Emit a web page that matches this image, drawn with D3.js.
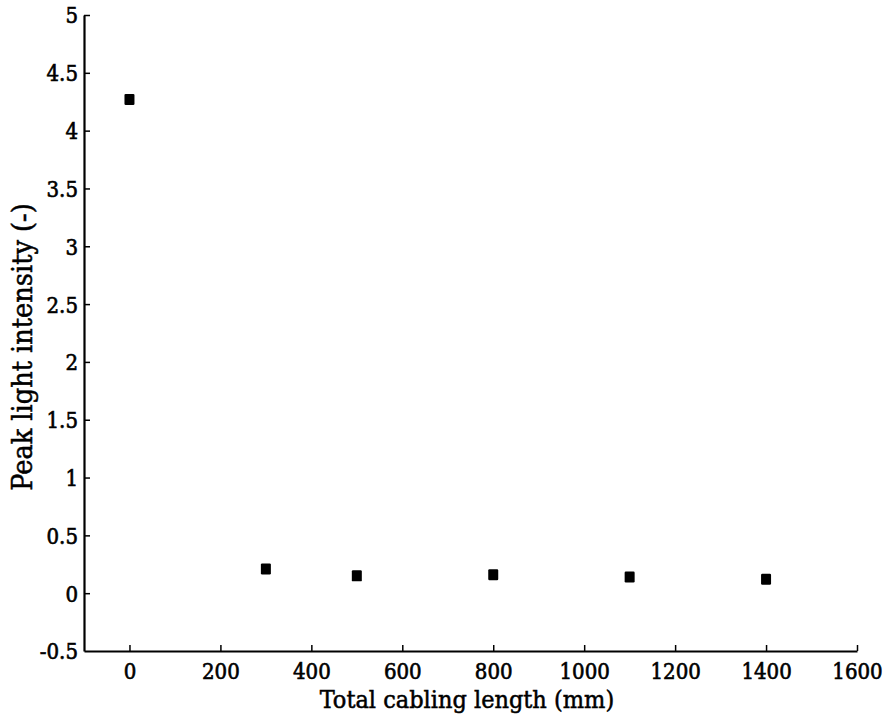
<!DOCTYPE html>
<html><head><meta charset="utf-8">
<script src="https://cdn.jsdelivr.net/npm/d3@7"></script>
<style>
html,body{margin:0;padding:0;background:#fff;}
svg{display:block;}
svg text{font-family:"DejaVu Serif Condensed","DejaVu Serif",serif;font-stretch:condensed;}
</style></head>
<body>
<svg id="chart" width="892" height="715"></svg>
<script>
const lengths = [0, 300, 500, 800, 1100, 1400];
const intensity = [4.27, 0.21, 0.15, 0.16, 0.14, 0.12];
const xTicks = [0, 200, 400, 600, 800, 1000, 1200, 1400, 1600];
const yTicks = [-0.5, 0, 0.5, 1, 1.5, 2, 2.5, 3, 3.5, 4, 4.5, 5];
const yTickLabels = ["-0.5", "0", "0.5", "1", "1.5", "2", "2.5", "3", "3.5", "4", "4.5", "5"];
const xTitle = "Total cabling length (mm)";
const yTitle = "Peak light intensity (-)";

const svg = d3.select("#chart");
const x = d3.scaleLinear().domain([-100, 1600]).range([84, 857]);
const y = d3.scaleLinear().domain([-0.5, 5]).range([651, 15]);

const xAxis = svg.append("g").attr("transform", `translate(0,${y(-0.5)})`)
  .call(d3.axisBottom(x).tickValues(xTicks).tickSizeInner(-6).tickSizeOuter(0).tickPadding(0).tickFormat(d => String(d)));
const yAxis = svg.append("g").attr("transform", `translate(${x(-100)},0)`)
  .call(d3.axisLeft(y).tickValues(yTicks).tickSizeInner(-6).tickSizeOuter(0).tickPadding(6)
    .tickFormat((d, i) => yTickLabels[i]));

[xAxis, yAxis].forEach(g => {
  g.attr("font-family", null).attr("font-size", 22);
  g.select(".domain").attr("stroke", "#000").attr("stroke-width", 2.2);
  g.selectAll(".tick line").attr("stroke", "#000").attr("stroke-width", 1.5);
  g.selectAll(".tick text").attr("fill", "#000").attr("stroke", "#000").attr("stroke-width", 0.6);
});
xAxis.selectAll(".tick text").attr("y", 28).attr("dy", null);
yAxis.selectAll(".tick text").attr("dy", "0.36em");
yAxis.selectAll(".tick").filter(d => d === -0.5).select("line").remove();

svg.append("text").attr("x", 467).attr("y", 708).attr("text-anchor", "middle")
  .attr("font-size", 25).attr("fill", "#000")
  .attr("stroke", "#000").attr("stroke-width", 0.5).text(xTitle);
svg.append("text").attr("transform", "translate(32,347) rotate(-90)").attr("text-anchor", "middle")
  .attr("font-size", 28.5).attr("fill", "#000")
  .attr("stroke", "#000").attr("stroke-width", 0.5).text(yTitle);

svg.append("g").selectAll("rect").data(lengths).join("rect")
  .attr("x", d => x(d) - 5).attr("y", (d, i) => y(intensity[i]) - 5.5)
  .attr("width", 10).attr("height", 11).attr("rx", 1.2).attr("fill", "#000");
</script>
</body></html>
